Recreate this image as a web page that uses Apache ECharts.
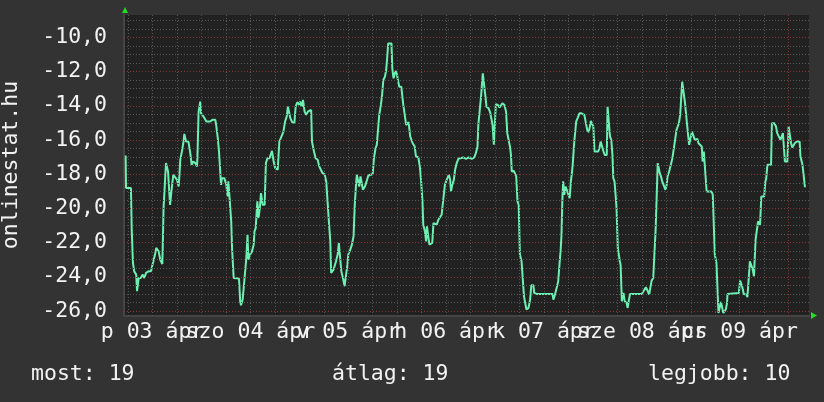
<!DOCTYPE html>
<html><head><meta charset="utf-8">
<script src="https://cdn.jsdelivr.net/npm/echarts@6/dist/echarts.min.js"></script>
<style>html,body{margin:0;padding:0;background:#333333;}#c{width:824px;height:402px;}</style>
</head><body><div id="c"></div>
<script>
// hours since 03 Apr 00:00
const hours = [
5.4,5.5,6.7,6.9,7.2,7.5,8.0,8.2,8.6,9.1,9.6,10.0,10.4,11.0,11.6,12.1,12.6,12.9,13.5,13.9,14.4,14.5,14.7,15.1,15.3,15.8,16.1,16.3,16.6,16.8,17.1,17.5,18.0,18.4,18.6,18.8,19.2,19.6,19.8,20.2,20.8,21.2,21.6,22.0,22.5,22.9,23.0,23.3,23.7,23.9,24.5,25.2,26.1,26.7,27.4,27.6,28.0,28.3,28.8,29.0,29.6,30.1,30.4,30.6,31.0,31.3,31.5,31.9,32.3,33.2,33.5,33.7,34.1,34.5,34.8,35.0,35.3,35.5,35.9,36.4,36.8,37.0,37.3,37.7,38.0,38.3,38.6,39.0,39.5,39.8,40.2,40.7,41.3,41.7,42.1,42.7,43.1,43.5,44.1,44.5,44.9,45.2,45.5,45.8,46.3,46.8,47.1,47.5,48.0,48.2,48.6,48.9,49.3,49.7,50.1,50.4,50.9,51.1,51.6,52.0,52.5,52.9,53.3,53.7,54.2,54.6,55.0,55.3,55.6,55.8,56.4,56.8,57.0,57.4,57.7,58.0,58.3,58.7,59.1,59.5,59.8,60.0,60.5,60.9,61.3,61.6,61.9,62.1,
62.4,62.7,63.0,63.3,63.6,64.1,64.5,64.9,65.4,66.0,66.3,66.7,67.0,67.4,67.6,68.0,68.3,68.6,69.0,69.3,69.6,69.8,70.6,70.8,71.1,71.3,71.6,71.9,72.1,72.5,73.0,73.4,73.5,73.8,74.2,74.5,74.8,75.2,75.5,75.8,76.3,76.6,77.2,77.6,77.9,78.2,78.4,78.8,79.1,79.3,79.7,79.9,80.3,80.6,80.9,81.3,81.7,82.1,82.5,82.9,83.3,83.7,84.0,84.3,84.7,85.0,85.2,85.5,85.9,86.2,86.6,87.0,87.4,88.2,88.9,89.5,90.3,90.9,91.3,91.7,91.9,92.2,92.6,93.0,93.3,93.6,93.9,94.4,94.8,95.2,95.4,95.7,95.9,96.2,96.7,97.1,97.4,97.8,98.3,98.7,99.0,99.4,99.7,99.9,100.1,100.6,100.9,101.2,101.5,101.8,102.1,102.5,102.9,103.1,103.4,103.7,104.2,104.6,104.9,105.4,105.6,106.2,110.1,110.3,110.7,111.1,111.5,111.8,112.1,112.3,112.5,112.7,113.0,113.3,113.7,114.0,114.3,114.6,114.9,115.1,115.4,115.7,115.9,116.3,116.7,117.2,117.9,118.3,118.6,119.0,119.5,119.8,120.1,120.4,121.3,121.6,121.9,122.2,122.6,122.9,123.4,123.6,124.0,124.2,124.5,124.8,125.0,125.3,125.5,125.8,126.1,126.3,126.6,126.8,127.1,127.3,127.5,127.8,128.3,128.5,128.8,129.1,132.0,132.5,133.0,133.4,133.8,134.2,134.4,134.8,135.1,135.4,135.6,135.9,136.1,136.4,136.7,137.0,137.4,137.8,138.1,138.3,138.7,139.1,139.5,139.8,140.1,140.5,140.8,141.1,141.4,141.7,141.9,142.3,142.6,142.8,143.1,143.4,143.6,144.0,144.3,144.6,145.0,145.3,145.6,145.9,146.3,146.7,146.9,147.2,147.6,147.9,149.1,149.4,149.7,149.9,150.3,150.5,150.8,151.2,151.4,151.7,152.0,152.4,152.6,152.9,153.0,155.8,156.1,156.3,156.6,157.0,157.7,157.9,158.3,158.5,158.9,159.2,159.5,159.7,159.9,160.2,160.5,160.8,161.0,161.3,162.0,162.3,162.5,162.8,163.7,163.9,164.5,164.9,165.2,165.6,166.0,166.3,166.6,166.8,167.1,167.7,168.0,168.3,168.6,168.9,169.2,169.5,170.0,170.7,170.9,171.2,171.4,171.7,172.0,172.2
];
const values = [
-16.9,-18.81,-18.81,-21.30,-23.19,-23.68,-23.87,-24.84,-24.07,-24.07,-23.87,-24.07,-23.77,-23.68,-23.68,-23.19,-22.70,-22.31,-22.51,-23.00,-23.25,-22.31,-19.98,-19.88,-17.35,-17.84,-17.84,-19.79,-19.79,-18.62,-18.03,-17.94,-18.33,-18.72,-18.03,-17.16,-16.67,-16.09,-15.64,-16.09,-16.09,-16.67,-17.45,-17.26,-17.35,-17.55,-17.06,-14.34,-13.75,-14.44,-14.63,-14.92,-14.92,-14.82,-14.82,-15.12,-15.89,-16.67,-18.62,-18.23,-18.23,-18.62,-19.30,-18.42,-18.42,-20.76,-22.31,-24.07,-24.16,-24.10,-25.43,-25.66,-25.33,-24.26,-24.16,-22.90,-21.54,-23.00,-22.70,-22.51,-22.12,-21.34,-21.15,-19.59,-20.56,-19.98,-19.10,-19.79,-19.79,-17.35,-17.06,-17.06,-16.63,-17.26,-17.65,-17.74,-16.09,-16.05,-15.51,-14.92,-14.63,-14.05,-13.99,-14.73,-14.98,-14.98,-14.05,-13.79,-13.95,-13.75,-14.05,-13.66,-14.34,-14.53,-14.34,-14.24,-14.24,-16.09,-16.67,-17.06,-17.16,-17.55,-17.61,-17.94,-18.00,-18.42,-18.52,-20.95,-21.93,-23.77,-23.58,-23.58,-23.09,-22.70,-22.02,-22.02,-23.68,-24.07,-24.55,-24.61,-23.29,-22.70,-22.41,-22.12,-21.63,-19.79,-18.62,-18.03,
-18.03,-18.72,-18.13,-18.13,-18.91,-18.72,-18.42,-18.09,-18.03,-18.00,-17.06,-16.48,-16.28,-16.28,-14.53,-13.95,-13.37,-12.49,-12.30,-11.91,-11.03,-10.35,-10.35,-11.81,-12.39,-12.49,-11.96,-12.10,-12.39,-12.88,-12.88,-12.98,-13.95,-14.44,-15.12,-15.02,-14.96,-15.80,-15.99,-16.19,-16.38,-16.96,-17.02,-17.65,-18.52,-19.59,-20.95,-21.34,-21.93,-21.05,-21.05,-22.12,-22.12,-22.02,-20.86,-20.86,-20.95,-20.66,-20.56,-20.37,-20.27,-18.62,-18.42,-18.23,-18.03,-18.33,-19.01,-18.62,-18.33,-17.74,-17.35,-17.10,-17.02,-17.02,-17.10,-17.02,-17.10,-17.02,-16.77,-16.38,-15.12,-15.02,-13.37,-12.10,-12.10,-13.37,-14.05,-14.14,-14.38,-14.44,-15.12,-16.28,-16.28,-13.91,-13.95,-14.10,-14.05,-13.85,-13.95,-14.34,-15.60,-15.70,-16.44,-16.87,-17.84,-17.80,-17.84,-18.13,-19.59,-19.79,-22.70,-23.09,-23.09,-25.14,-25.23,-25.91,-25.82,-25.33,-24.49,-24.49,-24.94,-25.00,-25.00,-25.33,-25.04,-24.65,-24.26,-23.29,-22.41,-21.54,-19.59,-18.42,-19.20,-18.72,-18.77,-19.20,-19.40,-18.42,-17.84,-17.26,-16.19,-16.09,-14.92,-14.69,-14.44,-14.44,-14.53,-14.49,-15.41,-15.54,-14.88,-14.88,-15.21,-16.67,-16.67,-16.48,-16.09,-16.09,-16.67,-16.87,-16.87,-14.05,-14.05,-15.80,-15.99,-16.87,-18.23,-18.42,-19.01,-19.98,-22.31,-22.41,-23.09,-23.29,-25.43,-25.14,-24.94,-25.43,-25.53,-25.82,-25.82,-25.00,-25.00,-24.80,-24.61,-24.80,-25.04,-25.04,-24.22,-24.07,-23.97,-21.15,-21.05,-17.35,-17.35,-17.94,-18.13,-18.42,-18.42,-18.91,-18.62,-18.13,-17.84,-17.74,-17.06,-16.96,-16.09,-15.41,-15.21,-15.02,-14.53,-14.44,-12.59,-12.59,-13.85,-13.95,-15.12,-15.21,-16.28,-16.19,-15.51,-15.41,-15.99,-16.09,-15.93,-16.19,-16.19,-16.38,-17.26,-16.67,-16.63,-19.01,-19.01,-19.20,-19.30,-22.70,-23.19,-23.29,-26.11,-26.11,-25.47,-25.47,-26.11,-26.11,-25.91,-25.53,-25.00,-24.94,-24.22,-24.26,-24.55,-25.00,-25.04,-25.19,-25.19,-23.09,-23.09,-23.58,-23.97,-23.97,-21.83,-21.73,-20.76,-20.76,-20.95,-19.30,-19.30,-18.42,-18.27,-17.45,-17.45,-15.02,-15.02,-15.21,-15.60,-15.70,-15.99,-15.99,-15.60,-15.51,-17.26,-17.26,-15.21,-15.31,-16.19,-16.44,-16.32,-16.19,-16.09,-16.09,-16.96,-17.06,-17.45,-17.45,-18.72,-18.72
];
const yTicks = [-26,-24,-22,-20,-18,-16,-14,-12,-10];
const dayNoons = [12,36,60,84,108,132,156];
const dayLabels = ['p 03 ápr','szo 04 ápr','v 05 ápr','h 06 ápr','k 07 ápr','sze 08 ápr','cs 09 ápr'];
const axisTitle = 'onlinestat.hu';
const legendTexts = ['most: 19','átlag: 19','legjobb: 10'];

const font = '"DejaVu Sans Mono", monospace';
const fs = 21.5;
const txt = '#f2f2f2';
const minorCol = '#575757';
const majorCol = '#803838';

const gridLines = [];
for (let v = -26; v <= -9; v += 0.5) {
  const major = (v % 2 === 0);
  gridLines.push({yAxis: v, lineStyle: {color: major ? majorCol : minorCol, type: [1, 2], width: 1}});
}
for (let h = 6; h < 173; h += 6) {
  const major = (h % 24 === 0);
  gridLines.push({xAxis: h, lineStyle: {color: major ? majorCol : minorCol, type: [1, 2], width: 1}});
}

// overlapping day labels are split over two axes so that none gets hidden
const evenNoons = dayNoons.filter((d, i) => i % 2 === 0);
const oddNoons = dayNoons.filter((d, i) => i % 2 === 1);
function xAxisDef(vals, showLine) {
  return {
    type: 'value', min: 5, max: 173, position: 'bottom', gridIndex: 0,
    axisLine: {show: showLine, onZero: false, lineStyle: {color: '#444444', width: 2}},
    axisTick: {show: false}, splitLine: {show: false},
    axisLabel: {customValues: vals, formatter: v => dayLabels[dayNoons.indexOf(v)], color: txt,
      fontFamily: font, fontSize: fs, margin: 5, hideOverlap: false, showMinLabel: true, showMaxLabel: true}
  };
}

const chart = echarts.init(document.getElementById('c'), null, {renderer: 'canvas', width: 824, height: 402});
chart.setOption({
  backgroundColor: '#333333',
  animation: false,
  grid: {left: 124, top: 15, width: 685, height: 301, show: true, backgroundColor: '#212121', borderWidth: 0},
  xAxis: [xAxisDef(evenNoons, true), xAxisDef(oddNoons, false)],
  yAxis: {
    type: 'value', min: -26.29, max: -8.69,
    axisLine: {show: true, onZero: false, lineStyle: {color: '#444444', width: 2}},
    axisTick: {show: false}, splitLine: {show: false},
    axisLabel: {customValues: yTicks, formatter: v => v.toFixed(1).replace('.', ','), color: txt,
      fontFamily: font, fontSize: fs, margin: 17, showMinLabel: true, showMaxLabel: true}
  },
  series: [
    {type: 'line', data: [], z: 1, silent: true, xAxisIndex: 0,
     markLine: {silent: true, symbol: 'none', label: {show: false}, animation: false, data: gridLines}},
    {type: 'line', data: hours.map((h, i) => [h, values[i]]), symbol: 'none', showSymbol: false, xAxisIndex: 0,
     lineStyle: {color: '#6cf0b2', width: 2}, z: 3}
  ],
  graphic: [
    {type: 'text', x: 11.5, y: 165, rotation: Math.PI / 2,
     style: {text: axisTitle, font: fs + 'px ' + font, fill: txt, align: 'center', verticalAlign: 'middle'}},
    {type: 'text', x: 31, y: 374, style: {text: legendTexts[0], font: fs + 'px ' + font, fill: txt, align: 'left', verticalAlign: 'middle'}},
    {type: 'text', x: 332, y: 374, style: {text: legendTexts[1], font: fs + 'px ' + font, fill: txt, align: 'left', verticalAlign: 'middle'}},
    {type: 'text', x: 648, y: 374, style: {text: legendTexts[2], font: fs + 'px ' + font, fill: txt, align: 'left', verticalAlign: 'middle'}},
    {type: 'polygon', shape: {points: [[122, 13], [128, 13], [125, 7]]}, style: {fill: '#22dd22'}},
    {type: 'polygon', shape: {points: [[811, 312], [811, 319], [817, 315.5]]}, style: {fill: '#22dd22'}}
  ]
});
</script>
</body></html>
